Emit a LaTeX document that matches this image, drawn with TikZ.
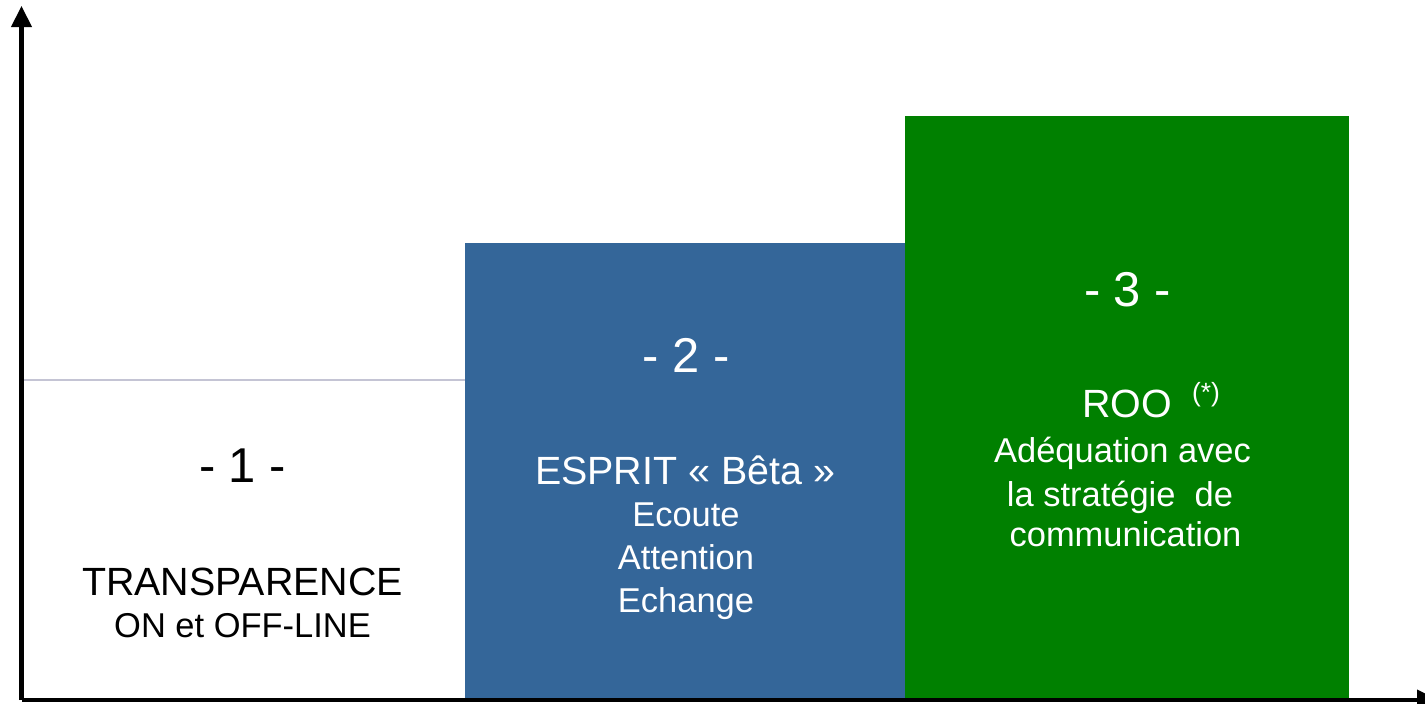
\documentclass[tikz,border=0pt]{standalone}
\usepackage{fontspec}
\setmainfont{Liberation Sans}
\usetikzlibrary{arrows.meta}
\definecolor{stepblue}{RGB}{52,102,153}
\definecolor{stepgreen}{RGB}{0,128,0}
\definecolor{stepline}{RGB}{196,196,212}
\begin{document}
\begin{tikzpicture}[x=0.01cm,y=-0.01cm,
    numtext/.style={anchor=base,inner sep=0pt,font=\fontsize{13.9}{16}\selectfont},
    titletext/.style={anchor=base,inner sep=0pt,font=\fontsize{11.2}{13}\selectfont},
    subtext/.style={anchor=base,inner sep=0pt,font=\fontsize{9.8}{12}\selectfont},
    axis/.style={line width=1.15pt,-{Triangle[length=0.21cm,width=0.2cm]}}]
      \useasboundingbox (0,0) rectangle (1425,704);
      \fill[stepblue] (465,243) rectangle (905,700);
      \fill[stepgreen] (905,116) rectangle (1349,700);
      \draw[stepline,line width=0.3pt] (22,380) -- (465,380);
      \coordinate (origin) at (21.5,700);
      \coordinate (ytop) at (21.5,6);
      \coordinate (xend) at (1438,700);
      \draw[axis] (origin) -- (ytop);
      \draw[axis] (origin) -- (xend);
      % step 1
      \node[numtext] (n1) at (242.5,482) {- 1 -};
      \node[titletext] (t1) at (242.5,595) {TRANSPARENCE};
      \node[subtext] (s1) at (242.5,637) {ON et OFF-LINE};
      % step 2
      \begin{scope}[white]
        \node[numtext] (n2) at (686,373) {- 2 -};
        \node[titletext] (t2) at (685,485) {ESPRIT « Bêta »};
        \node[subtext] (s2a) at (686,527) {Ecoute};
        \node[subtext] (s2b) at (686,569.5) {Attention};
        \node[subtext] (s2c) at (686,612) {Echange};
      \end{scope}
      % step 3
      \begin{scope}[white]
        \node[numtext] (n3) at (1127.5,307) {- 3 -};
        \node[titletext] (t3) at (1127,418) {ROO};
        \node[anchor=base,inner sep=0pt,font=\fontsize{7.5}{9}\selectfont] (star) at (1206,402) {(*)};
        \node[subtext] (s3a) at (1122.5,463) {Adéquation avec};
        \node[subtext] (s3b) at (1120,506) {la stratégie\ \ de};
        \node[subtext] (s3c) at (1125.5,547) {communication};
      \end{scope}
    \end{tikzpicture}
\end{document}
